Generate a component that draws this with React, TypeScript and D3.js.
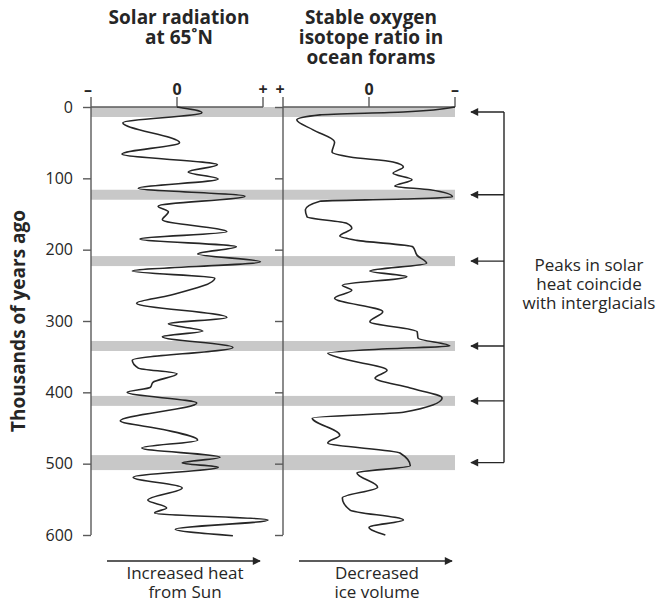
import React, { useEffect, useRef } from 'react';
import * as d3 from 'd3';

// thousands of years ago
const yearTicks = [0, 100, 200, 300, 400, 500, 600];

// solar radiation at 65N, relative units (-1 .. +1)
const solarYears = [0, 8, 22, 50, 66, 81, 91, 101, 114, 125, 139, 147, 158, 175, 185, 196, 206, 217, 230, 240, 264, 275, 295, 304, 314, 322, 337, 355, 366, 374, 386, 393, 400, 415, 440, 452, 467, 478, 491, 499, 505, 519, 534, 551, 562, 569, 579, 592, 601];
const solarValues = [0, 0.29, -0.63, 0.03, -0.64, 0.47, 0.13, 0.48, -0.45, 0.79, -0.22, -0.1, -0.17, 0.58, -0.43, 0.69, 0.24, 0.97, -0.52, 0.44, -0.08, -0.47, 0.58, -0.1, 0.3, -0.17, 0.65, -0.52, -0.45, 0, -0.28, -0.31, -0.58, 0.23, -0.66, -0.16, 0.24, -0.41, 0.5, 0.06, 0.48, -0.51, 0.06, -0.34, -0.12, -0.26, 1.06, -0.02, 0.65];

// oxygen isotope ratio, relative units (-1 = "+", 1 = "-")
const isoYears = [0, 7, 11, 18, 32, 49, 63, 70, 77, 84, 93, 102, 111, 116, 126, 129, 132, 144, 154, 163, 170, 181, 187, 196, 208, 219, 230, 238, 250, 257, 268, 287, 301, 315, 324, 335, 339, 345, 353, 369, 380, 394, 408, 428, 436, 460, 471, 485, 503, 513, 533, 548, 565, 579, 589, 600];
const isoValues = [1, 0.4, -0.57, -0.84, -0.65, -0.4, -0.43, -0.22, 0.28, 0.4, 0.28, 0.5, 0.3, 0.71, 0.97, 0.4, -0.57, -0.74, -0.72, -0.26, -0.2, -0.34, -0.14, 0.51, 0.56, 0.67, 0.01, 0.44, -0.31, -0.2, -0.4, 0.16, 0.01, 0.56, 0.57, 0.94, 0.21, -0.48, -0.3, 0.21, 0.07, 0.48, 0.85, 0.4, -0.66, -0.34, -0.48, 0.36, 0.48, -0.14, 0.1, -0.31, -0.22, 0.4, 0, 0.19];

// interglacial bands
const barStarts = [0, 116, 209, 328, 405, 488];
const barEnds = [14, 130, 223, 342, 419, 509];

const topTickValues = [-1, 0, 1];
const solarTickLabels = ['–', '0', '+'];
const isoTickLabels = ['+', '0', '–'];

const solarTitle = ['Solar radiation', 'at 65˚N'];
const isoTitle = ['Stable oxygen', 'isotope ratio in', 'ocean forams'];
const solarCaption = ['Increased heat', 'from Sun'];
const isoCaption = ['Decreased', 'ice volume'];
const peakNote = ['Peaks in solar', 'heat coincide', 'with interglacials'];

export default function App() {
    const ref = useRef<SVGSVGElement>(null);

    useEffect(() => {
        const svg = d3.select(ref.current);
        svg.selectAll('*').remove();

        const font = "'Open Sans', sans-serif";
        const ink = '#262626';
        const axisInk = '#5a5a5a';

        const y = d3.scaleLinear().domain([0, 600]).range([107, 535]);
        const xSolar = d3.scaleLinear().domain([-1, 1]).range([91, 263]);
        const xIso = d3.scaleLinear().domain([-1, 1]).range([283, 455]);

        svg.append('defs').append('marker')
            .attr('id', 'head')
            .attr('viewBox', '0 0 10 10')
            .attr('refX', 9)
            .attr('refY', 5)
            .attr('markerWidth', 10)
            .attr('markerHeight', 8)
            .attr('markerUnits', 'userSpaceOnUse')
            .attr('orient', 'auto')
            .append('path')
            .attr('d', 'M0,0L10,5L0,10z')
            .attr('fill', ink);

        // gray bands across both panels
        svg.append('g').selectAll('rect')
            .data(barStarts)
            .join('rect')
            .attr('x', xSolar(-1))
            .attr('width', xIso(1) - xSolar(-1))
            .attr('y', d => y(d))
            .attr('height', (d, i) => y(barEnds[i]) - y(d))
            .attr('fill', '#c8c8c8');

        const panels = [
            {x: xSolar, labels: solarTickLabels, showYears: true, title: solarTitle, caption: solarCaption, years: solarYears, values: solarValues},
            {x: xIso, labels: isoTickLabels, showYears: false, title: isoTitle, caption: isoCaption, years: isoYears, values: isoValues}
        ];

        panels.forEach(p => {
            const g = svg.append('g');
            const left = p.x(-1);

            const axis = g.append('g')
                .attr('transform', 'translate(' + left + ',0)')
                .call(d3.axisLeft(y)
                    .tickValues(yearTicks)
                    .tickSize(8)
                    .tickPadding(10)
                    .tickFormat(p.showYears ? d3.format('d') : () => ''));
            axis.select('.domain').remove();
            axis.selectAll('line').attr('stroke', axisInk).attr('stroke-width', 1.4);
            axis.selectAll('text')
                .attr('fill', ink)
                .style('font', '16px ' + font);

            g.append('line')
                .attr('x1', left).attr('x2', left)
                .attr('y1', y(0) - 10).attr('y2', y(600))
                .attr('stroke', axisInk).attr('stroke-width', 1.4);
            g.append('line')
                .attr('x1', left).attr('x2', p.x(1))
                .attr('y1', y(0)).attr('y2', y(0))
                .attr('stroke', axisInk).attr('stroke-width', 1.4);

            g.selectAll('.top-tick')
                .data(topTickValues.slice(1))
                .join('line')
                .attr('class', 'top-tick')
                .attr('x1', d => p.x(d)).attr('x2', d => p.x(d))
                .attr('y1', y(0) - 10).attr('y2', y(0))
                .attr('stroke', axisInk).attr('stroke-width', 1.4);

            g.selectAll('.top-label')
                .data(topTickValues)
                .join('text')
                .attr('class', 'top-label')
                .attr('x', (d, i) => p.x(d) + (i === 0 ? -3 : 0))
                .attr('y', 95)
                .attr('text-anchor', 'middle')
                .attr('fill', ink)
                .style('font', 'bold 16px ' + font)
                .text((d, i) => p.labels[i]);

            const line = d3.line<number>()
                .x((d, i) => p.x(p.values[i]))
                .y(d => y(d))
                .curve(d3.curveMonotoneY);
            g.append('path')
                .attr('d', line(p.years))
                .attr('fill', 'none')
                .attr('stroke', ink)
                .attr('stroke-width', 1.6)
                .attr('stroke-linejoin', 'round');

            const mid = p.x(0) + 2;
            g.append('text')
                .attr('text-anchor', 'middle')
                .attr('fill', ink)
                .style('font', 'bold 19px ' + font)
                .selectAll('tspan')
                .data(p.title)
                .join('tspan')
                .attr('x', mid)
                .attr('y', (d, i) => 24 + i * 20)
                .text(d => d);

            g.append('line')
                .attr('x1', left + 16).attr('x2', p.x(1) - 3)
                .attr('y1', 561).attr('y2', 561)
                .attr('stroke', ink).attr('stroke-width', 1.4)
                .attr('marker-end', 'url(#head)');

            g.append('text')
                .attr('text-anchor', 'middle')
                .attr('fill', ink)
                .style('font', '17px ' + font)
                .selectAll('tspan')
                .data(p.caption)
                .join('tspan')
                .attr('x', p.x(0) + 8)
                .attr('y', (d, i) => 579 + i * 19)
                .text(d => d);
        });

        // bracket with arrows pointing at bands
        const bx = 504;
        const centers = barStarts.map((d, i) => (d + barEnds[i]) / 2);
        const note = svg.append('g');
        note.append('line')
            .attr('x1', bx).attr('x2', bx)
            .attr('y1', y(centers[0])).attr('y2', y(centers[centers.length - 1]))
            .attr('stroke', ink).attr('stroke-width', 1.4);
        note.selectAll('.arrow')
            .data(centers)
            .join('line')
            .attr('class', 'arrow')
            .attr('x1', bx).attr('x2', 471)
            .attr('y1', d => y(d)).attr('y2', d => y(d))
            .attr('stroke', ink).attr('stroke-width', 1.4)
            .attr('marker-end', 'url(#head)');
        note.append('text')
            .attr('text-anchor', 'middle')
            .attr('fill', ink)
            .style('font', '17px ' + font)
            .selectAll('tspan')
            .data(peakNote)
            .join('tspan')
            .attr('x', 589)
            .attr('y', (d, i) => 271 + i * 19)
            .text(d => d);

        svg.append('text')
            .attr('transform', 'translate(25,' + y(300) + ') rotate(-90)')
            .attr('text-anchor', 'middle')
            .attr('fill', ink)
            .style('font', 'bold 19px ' + font)
            .text('Thousands of years ago');
    }, []);

    return (
        <svg ref={ref} width={671} height={604}
             style={{position: 'absolute', left: 0, top: 0, background: '#fff'}}/>
    );
}
